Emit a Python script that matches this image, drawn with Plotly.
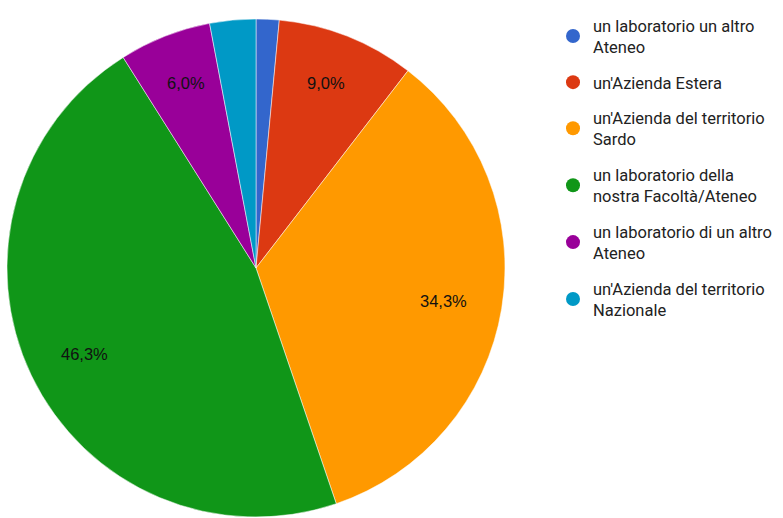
import math
import plotly.graph_objects as go

categories = [
    "un laboratorio un altro<br>Ateneo",
    "un'Azienda Estera",
    "un'Azienda del territorio<br>Sardo",
    "un laboratorio della<br>nostra Facoltà/Ateneo",
    "un laboratorio di un altro<br>Ateneo",
    "un'Azienda del territorio<br>Nazionale",
]
counts = [1, 6, 23, 31, 4, 2]
colors = ["#3366cc", "#dc3912", "#ff9900", "#109618", "#990099", "#0099c6"]

W, H = 783, 518
# pie placement (pixels)
CX, CY, R = 256, 268, 249
total = sum(counts)

fig = go.Figure()
fig.add_trace(go.Pie(
    labels=categories,
    values=counts,
    sort=False,
    direction="clockwise",
    rotation=0,
    marker=dict(colors=colors, line=dict(color="white", width=0.5)),
    textinfo="none",
    showlegend=False,
    hoverinfo="label+percent",
    domain=dict(x=[(CX - R) / W, (CX + R) / W], y=[(H - CY - R) / H, (H - CY + R) / H]),
))

# percentage labels placed along each slice's bisector (computed from the data)
cum = 0
for c in counts:
    mid = (cum + c / 2) / total * 2 * math.pi
    cum += c
    share = c / total
    if share < 0.05:
        continue
    px = CX + 0.765 * R * math.sin(mid)
    py = CY - 0.80 * R * math.cos(mid)
    txt = f"{share * 100:.1f}%".replace(".", ",")
    fig.add_annotation(
        x=px / W, y=1 - py / H, xref="paper", yref="paper",
        text=txt, showarrow=False, xanchor="center", yanchor="middle",
        font=dict(family="Arial, Liberation Sans", size=16.5, color="#111111"),
    )

for i, (lab, col) in enumerate(zip(categories, colors)):
    fig.add_trace(go.Scatter(
        x=[None], y=[None], mode="markers", name=lab,
        marker=dict(color=col, size=14, symbol="circle"),
        legendgroup=f"g{i}", showlegend=True,
    ))

fig.update_layout(
    width=W, height=H,
    margin=dict(l=0, r=0, t=0, b=0),
    paper_bgcolor="white", plot_bgcolor="white",
    xaxis=dict(visible=False), yaxis=dict(visible=False),
    legend=dict(
        x=553 / W, y=1 - 8 / H, xanchor="left", yanchor="top",
        font=dict(family="Roboto", size=16.5, color="#222222"),
        tracegroupgap=11, itemwidth=30,
        bgcolor="rgba(0,0,0,0)",
    ),
)
fig.write_html("out.html", config={"displayModeBar": False},
               post_script="document.body.style.margin='0px';")
